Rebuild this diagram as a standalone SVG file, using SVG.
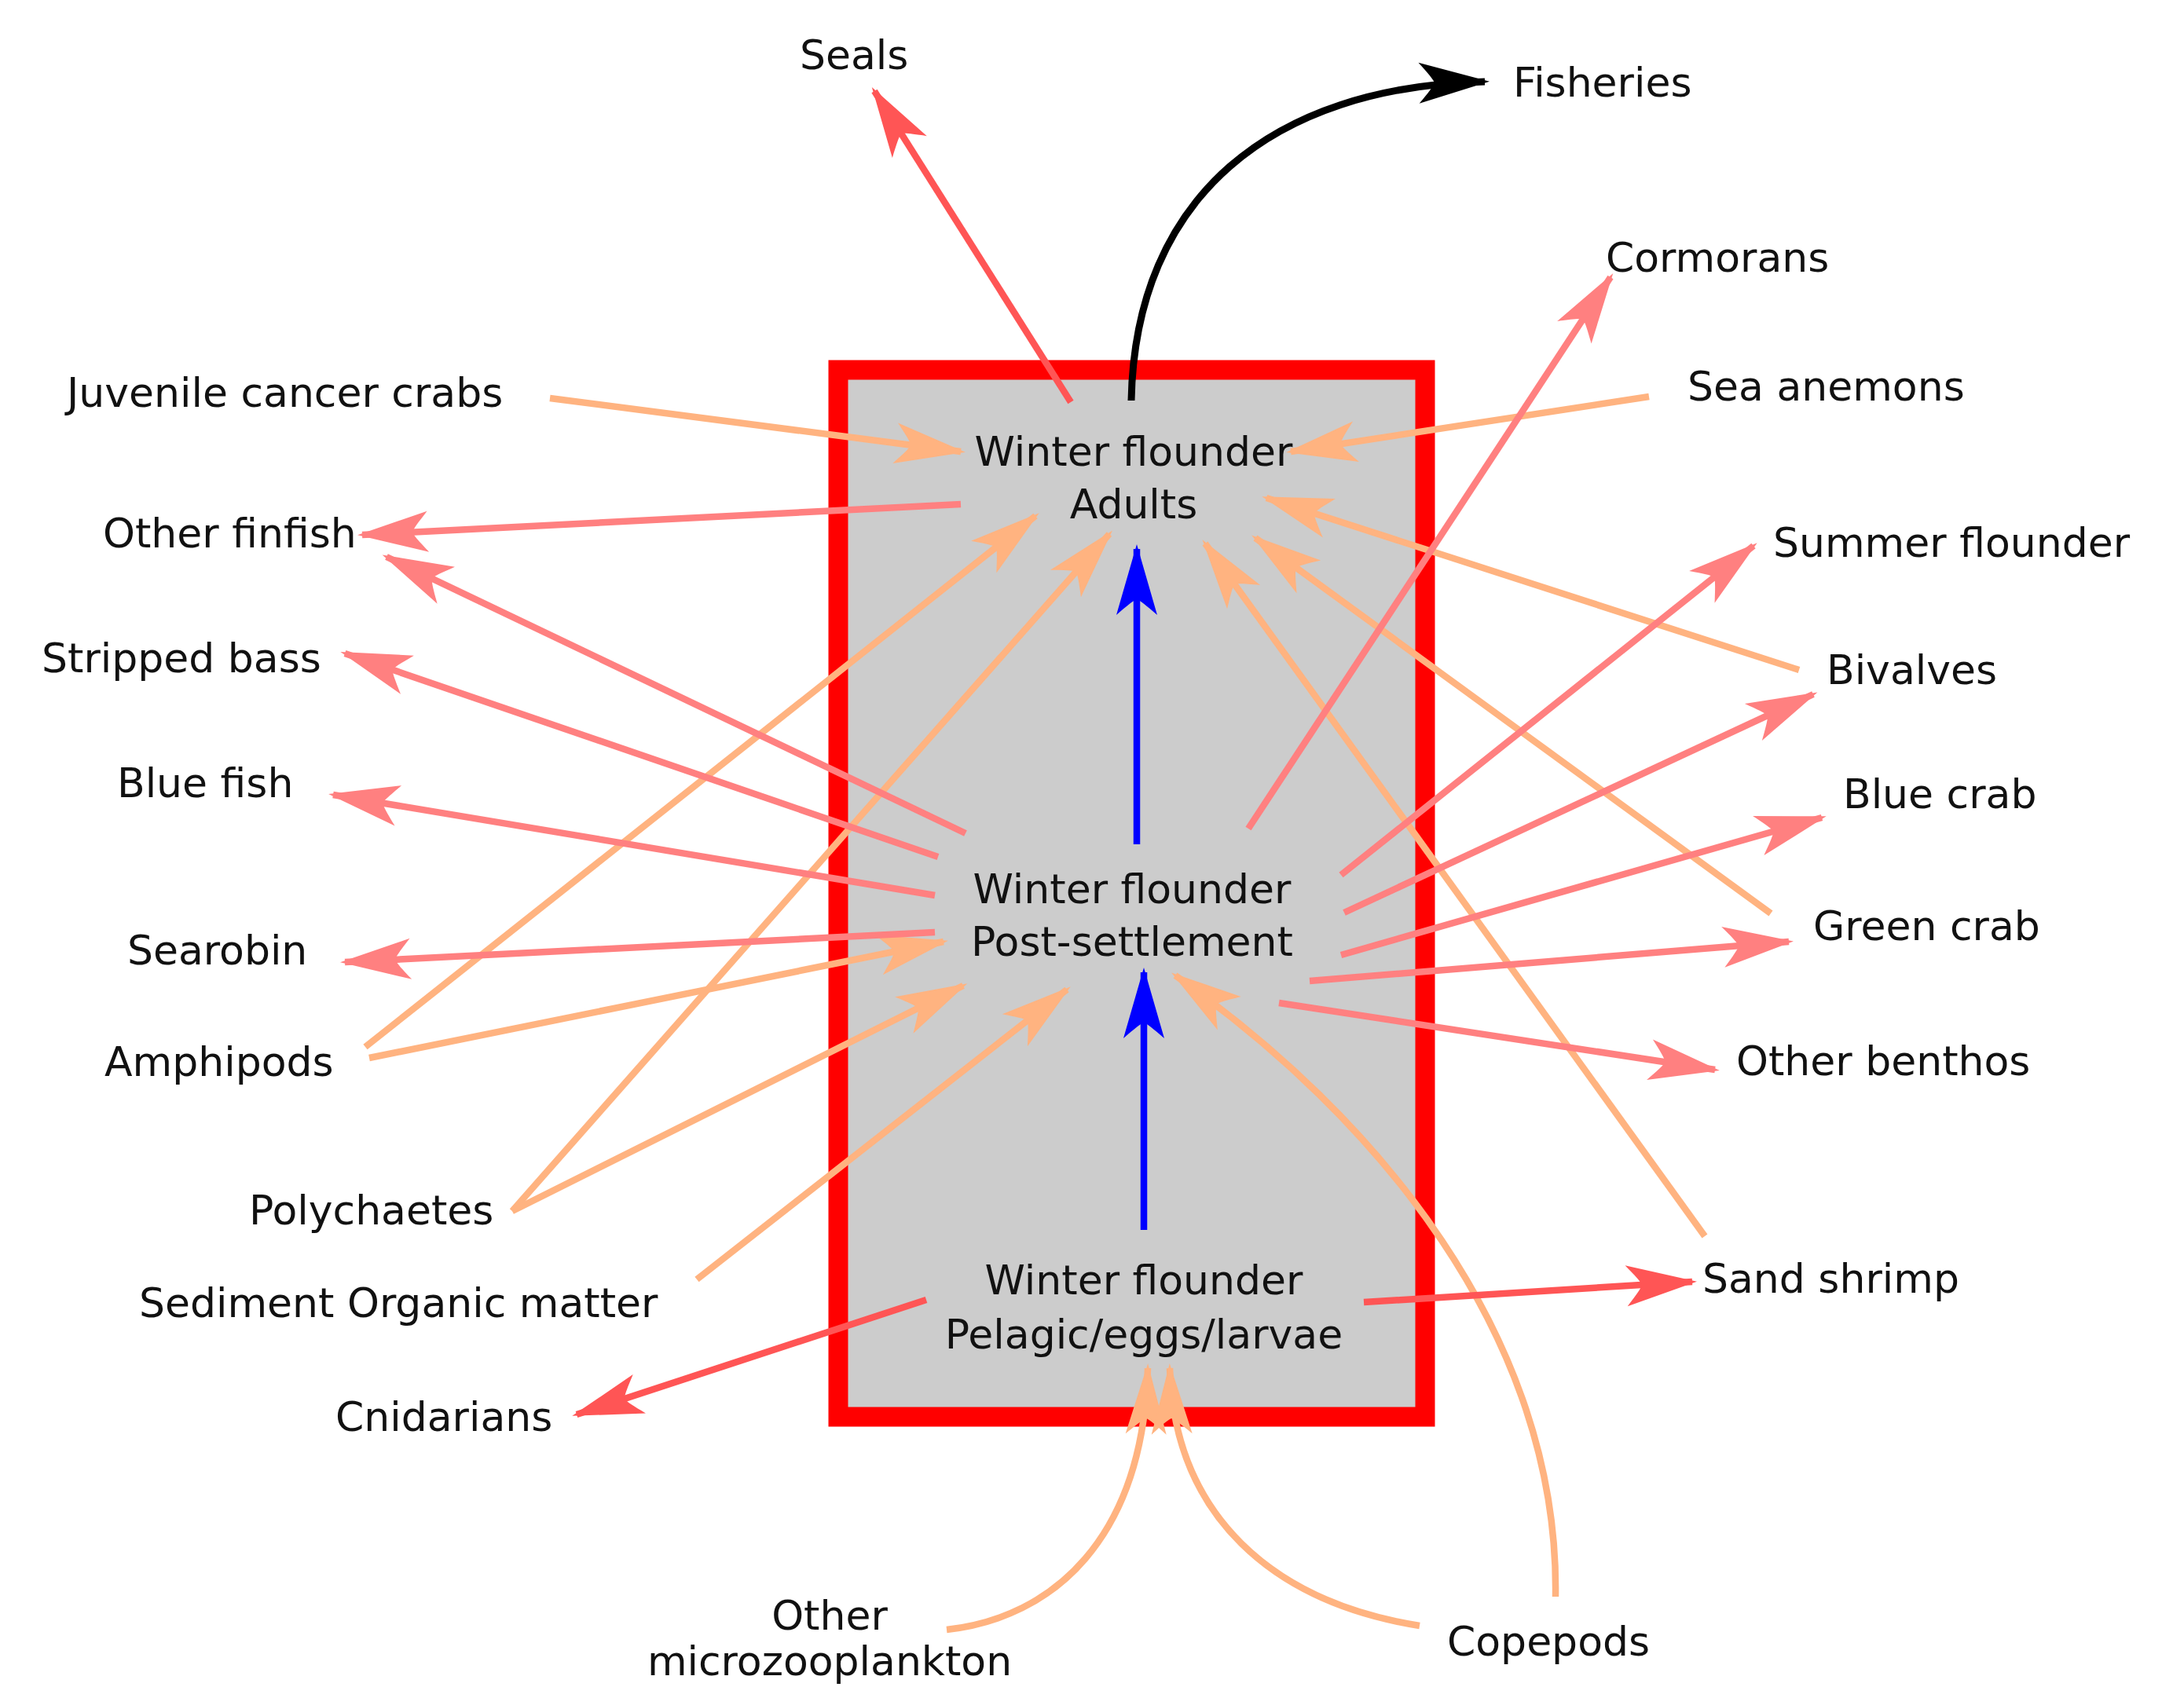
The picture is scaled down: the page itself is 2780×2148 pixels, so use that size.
<svg xmlns="http://www.w3.org/2000/svg" width="2780" height="2148" viewBox="0 0 2780 2148">
<style>
text{font-family:"DejaVu Sans","Liberation Sans",sans-serif;font-size:52px;fill:#111}
.c{text-anchor:middle}
.ln{fill:none;stroke-width:8.5}
.o{stroke:#ffb380;marker-end:url(#mo)}
.p{stroke:#ff8080;marker-end:url(#mp)}
.r{stroke:#ff5555;marker-end:url(#mr)}
.b{stroke:#0000ff;marker-end:url(#mb)}
.k{stroke:#000000;stroke-width:9;marker-end:url(#mk)}
</style>
<defs>
<marker id="mo" markerUnits="userSpaceOnUse" markerWidth="100" markerHeight="60" viewBox="-90 -30 100 60" refX="0" refY="0" orient="auto" overflow="visible"><path d="M6,0 L-84,-26 C-72,-12 -66,-5 -64,0 C-66,5 -72,12 -84,26 Z" fill="#ffb380"/></marker>
<marker id="mp" markerUnits="userSpaceOnUse" markerWidth="100" markerHeight="60" viewBox="-90 -30 100 60" refX="0" refY="0" orient="auto" overflow="visible"><path d="M6,0 L-84,-26 C-72,-12 -66,-5 -64,0 C-66,5 -72,12 -84,26 Z" fill="#ff8080"/></marker>
<marker id="mr" markerUnits="userSpaceOnUse" markerWidth="100" markerHeight="60" viewBox="-90 -30 100 60" refX="0" refY="0" orient="auto" overflow="visible"><path d="M6,0 L-84,-26 C-72,-12 -66,-5 -64,0 C-66,5 -72,12 -84,26 Z" fill="#ff5555"/></marker>
<marker id="mb" markerUnits="userSpaceOnUse" markerWidth="100" markerHeight="60" viewBox="-90 -30 100 60" refX="0" refY="0" orient="auto" overflow="visible"><path d="M6,0 L-84,-26 C-72,-12 -66,-5 -64,0 C-66,5 -72,12 -84,26 Z" fill="#0000ff"/></marker>
<marker id="mk" markerUnits="userSpaceOnUse" markerWidth="100" markerHeight="60" viewBox="-90 -30 100 60" refX="0" refY="0" orient="auto" overflow="visible"><path d="M6,0 L-84,-26 C-72,-12 -66,-5 -64,0 C-66,5 -72,12 -84,26 Z" fill="#000000"/></marker>
</defs>
<rect width="2780" height="2148" fill="#ffffff"/>
<g id="box"><rect x="1067" y="471" width="747" height="1333" fill="#cccccc" stroke="#ff0000" stroke-width="25"/></g>
<g id="connectors">
<path class="ln o" d="M700,507 L1223,575"/>
<path class="ln o" d="M2099,505 L1643,575"/>
<path class="ln o" d="M2290,853 L1612,634"/>
<path class="ln o" d="M2254,1163 L1598,685"/>
<path class="ln o" d="M2170,1574 L1534,692"/>
<path class="ln o" d="M465,1333 L1318,657"/>
<path class="ln o" d="M652,1542 L1412,680"/>
<path class="ln o" d="M470,1347 L1201,1199"/>
<path class="ln o" d="M652,1542 L1226,1255"/>
<path class="ln o" d="M887,1629 L1358,1260"/>
<path class="ln o" d="M1980,2033 C1985,1700 1750,1420 1496,1242"/>
<path class="ln o" d="M1205,2075 C1340,2060 1455,1960 1461,1742"/>
<path class="ln o" d="M1807,2070 C1620,2040 1495,1930 1489,1742"/>
<path class="ln p" d="M1223,642 L461,681"/>
<path class="ln p" d="M1229,1061 L492,709"/>
<path class="ln p" d="M1194,1091 L439,832"/>
<path class="ln p" d="M1190,1140 L424,1012"/>
<path class="ln p" d="M1190,1187 L439,1225"/>
<path class="ln p" d="M1589,1055 L2050,353"/>
<path class="ln p" d="M1707,1114 L2232,695"/>
<path class="ln p" d="M1711,1162 L2308,884"/>
<path class="ln p" d="M1707,1216 L2319,1041"/>
<path class="ln p" d="M1667,1249 L2277,1199"/>
<path class="ln p" d="M1628,1277 L2183,1362"/>
<path class="ln r" d="M1363,512 L1113,116"/>
<path class="ln r" d="M1179,1655 L734,1801"/>
<path class="ln r" d="M1736,1658 L2154,1632"/>
<path class="ln b" d="M1447,1075 L1447,699"/>
<path class="ln b" d="M1456,1566 L1456,1238"/>
<path class="ln k" d="M1440,510 C1445,250 1620,110 1890,104"/>
</g>
<g id="adults"><text class="c" x="1443" y="593">Winter flounder</text><text class="c" x="1443" y="660">Adults</text></g>
<g id="post-settlement"><text class="c" x="1441" y="1150">Winter flounder</text><text class="c" x="1441" y="1217">Post-settlement</text></g>
<g id="pelagic"><text class="c" x="1456" y="1648">Winter flounder</text><text class="c" x="1456" y="1717">Pelagic/eggs/larvae</text></g>
<g id="seals"><text x="1018" y="88">Seals</text></g>
<g id="fisheries"><text x="1926" y="123">Fisheries</text></g>
<g id="cormorans"><text x="2044" y="346">Cormorans</text></g>
<g id="juvenile-cancer-crabs"><text x="85" y="518">Juvenile cancer crabs</text></g>
<g id="sea-anemons"><text x="2148" y="510">Sea anemons</text></g>
<g id="other-finfish"><text x="131" y="697">Other finfish</text></g>
<g id="summer-flounder"><text x="2257" y="709">Summer flounder</text></g>
<g id="stripped-bass"><text x="53" y="856">Stripped bass</text></g>
<g id="bivalves"><text x="2325" y="871">Bivalves</text></g>
<g id="blue-fish"><text x="149" y="1015">Blue fish</text></g>
<g id="blue-crab"><text x="2346" y="1029">Blue crab</text></g>
<g id="searobin"><text x="162" y="1228">Searobin</text></g>
<g id="green-crab"><text x="2308" y="1197">Green crab</text></g>
<g id="amphipods"><text x="133" y="1370">Amphipods</text></g>
<g id="other-benthos"><text x="2210" y="1369">Other benthos</text></g>
<g id="polychaetes"><text x="317" y="1559">Polychaetes</text></g>
<g id="sand-shrimp"><text x="2167" y="1646">Sand shrimp</text></g>
<g id="sediment-organic-matter"><text x="177" y="1677">Sediment Organic matter</text></g>
<g id="cnidarians"><text x="427" y="1822">Cnidarians</text></g>
<g id="copepods"><text x="1842" y="2108">Copepods</text></g>
<g id="other-microzooplankton"><text class="c" x="1056" y="2075">Other</text><text class="c" x="1056" y="2133">microzooplankton</text></g>
</svg>
